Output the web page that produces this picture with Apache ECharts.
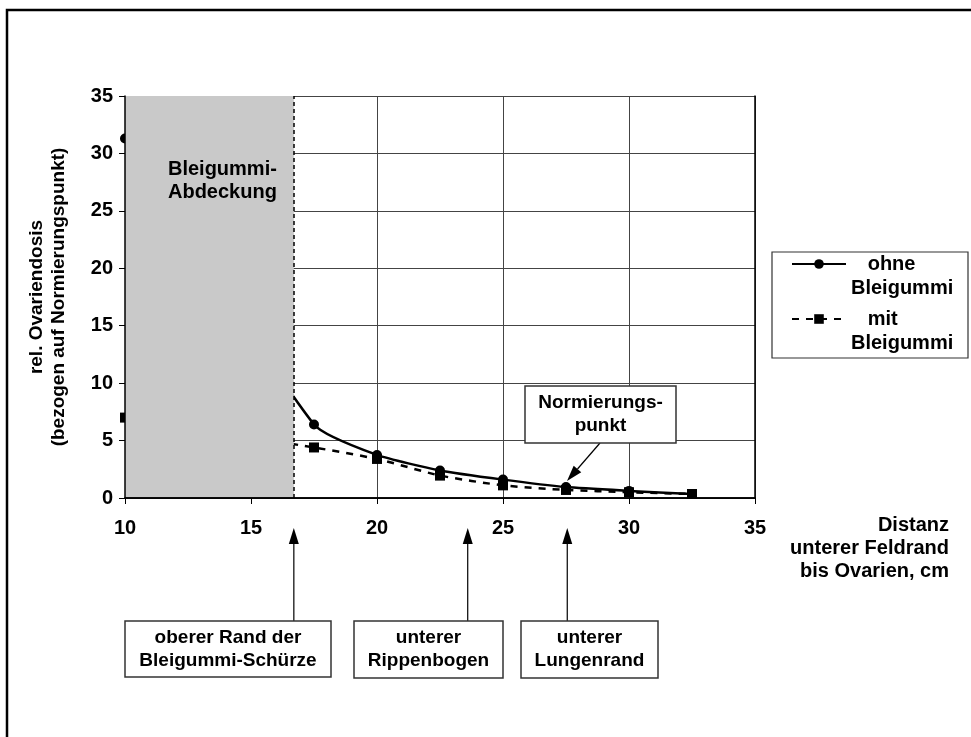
<!DOCTYPE html>
<html>
<head>
<meta charset="utf-8">
<script src="https://cdn.jsdelivr.net/npm/echarts@6/dist/echarts.min.js"></script>
<style>html,body{margin:0;padding:0;background:#fff}#c{width:971px;height:737px}</style>
</head>
<body>
<div id="c"></div>
<script>
// ---- data ----
const xValues = [10, 17.5, 20, 22.5, 25, 27.5, 30, 32.5];
const ohneBleigummi = [31.3, 6.4, 3.75, 2.4, 1.6, 0.95, 0.62, 0.35];
const mitBleigummi = [7.0, 4.4, 3.4, 1.95, 1.1, 0.7, 0.5, 0.35];
const seriesNames = ['ohne Bleigummi', 'mit Bleigummi'];
const xTicks = [10, 15, 20, 25, 30, 35];
const yTicks = [0, 5, 10, 15, 20, 25, 30, 35];
const shieldRange = [10, 16.7];
const annotationX = [16.7, 23.6, 27.55];
const annotationTexts = ['oberer Rand der\nBleigummi-Schürze', 'unterer\nRippenbogen', 'unterer\nLungenrand'];
const normPoint = [27.5, 0.95];

const FONT = '"Liberation Sans", Arial, Helvetica, sans-serif';
const chart = echarts.init(document.getElementById('c'));

const axisCommon = { type: 'value', min: 10, max: 35, interval: 5 };
const yCommon = { type: 'value', min: 0, max: 35, interval: 5 };

const option = {
  animation: false,
  backgroundColor: '#fff',
  grid: { left: 125, right: 216, top: 96, bottom: 239, containLabel: false },
  xAxis: [
    Object.assign({}, axisCommon, {
      position: 'bottom', z: 0,
      axisLine: { show: false }, axisTick: { show: false }, axisLabel: { show: false },
      splitLine: { show: true, lineStyle: { color: '#444', width: 1 } }
    }),
    Object.assign({}, axisCommon, {
      position: 'bottom', z: 6,
      axisLine: { show: true, lineStyle: { color: '#000', width: 1.5 } },
      axisTick: { show: true, length: 6, lineStyle: { color: '#000', width: 1 } },
      axisLabel: { show: true, margin: 20, color: '#000', fontFamily: FONT, fontWeight: 'bold', fontSize: 20,
        formatter: v => xTicks.includes(v) ? String(v) : '' },
      splitLine: { show: false }
    }),
    Object.assign({}, axisCommon, {
      position: 'top', z: 6,
      axisLine: { show: true, lineStyle: { color: '#000', width: 1.5 } },
      axisTick: { show: false }, axisLabel: { show: false }, splitLine: { show: false }
    })
  ],
  yAxis: [
    Object.assign({}, yCommon, {
      position: 'left', z: 0,
      axisLine: { show: false }, axisTick: { show: false }, axisLabel: { show: false },
      splitLine: { show: true, lineStyle: { color: '#444', width: 1 } }
    }),
    Object.assign({}, yCommon, {
      position: 'left', z: 6,
      name: 'rel. Ovariendosis\n(bezogen auf Normierungspunkt)',
      nameLocation: 'middle', nameRotate: 90, nameGap: 55,
      nameTextStyle: { color: '#000', fontFamily: FONT, fontWeight: 'bold', fontSize: 19, lineHeight: 22 },
      axisLine: { show: true, lineStyle: { color: '#000', width: 1.5 } },
      axisTick: { show: true, length: 6, lineStyle: { color: '#000', width: 1 } },
      axisLabel: { show: true, margin: 12, color: '#000', fontFamily: FONT, fontWeight: 'bold', fontSize: 20,
        formatter: v => yTicks.includes(v) ? String(v) : '' },
      splitLine: { show: false }
    }),
    Object.assign({}, yCommon, {
      position: 'right', z: 6,
      axisLine: { show: true, lineStyle: { color: '#000', width: 1.5 } },
      axisTick: { show: false }, axisLabel: { show: false }, splitLine: { show: false }
    })
  ],
  legend: {
    orient: 'vertical', left: 791, top: 228, padding: 0,
    itemWidth: 54, itemHeight: 12, itemGap: -17,
    data: seriesNames,
    formatter: name => { const p = name.split(' '); return '\n   ' + p[0] + '\n' + p[1]; },
    textStyle: { color: '#000', fontFamily: FONT, fontWeight: 'bold', fontSize: 20, lineHeight: 24 }
  },
  series: [
    {
      name: seriesNames[0], type: 'line', xAxisIndex: 0, yAxisIndex: 0, z: 2,
      data: xValues.map((x, i) => [x, ohneBleigummi[i]]),
      smooth: 0.2, symbol: 'circle', symbolSize: 10,
      lineStyle: { color: '#000', width: 2.5 }, itemStyle: { color: '#000' }
    },
    {
      name: seriesNames[1], type: 'line', xAxisIndex: 0, yAxisIndex: 0, z: 2,
      data: xValues.map((x, i) => [x, mitBleigummi[i]]),
      smooth: 0.2, symbol: 'rect', symbolSize: 10,
      lineStyle: { color: '#000', width: 2.5, type: [7, 7] }, itemStyle: { color: '#000' }
    },
    {
      type: 'line', xAxisIndex: 0, yAxisIndex: 0, data: [], silent: true,
      markArea: {
        silent: true, z: 3,
        itemStyle: { color: '#c9c9c9', borderWidth: 0 },
        label: { show: true, position: 'insideTop', distance: 62, offset: [13, 0],
          color: '#000', fontFamily: FONT, fontWeight: 'bold', fontSize: 20, lineHeight: 23, align: 'center' },
        data: [[{ xAxis: shieldRange[0], yAxis: 35, name: 'Bleigummi-\nAbdeckung' }, { xAxis: shieldRange[1], yAxis: 0 }]]
      },
      markLine: {
        silent: true, symbol: 'none', z: 5,
        label: { show: false },
        lineStyle: { color: '#000', width: 1.5, type: [4, 3] },
        data: [{ xAxis: shieldRange[1] }]
      }
    }
  ]
};
chart.setOption(option);

function arrow(x1, y1, x2, y2, headLen, headW) {
  const dx = x2 - x1, dy = y2 - y1, L = Math.sqrt(dx * dx + dy * dy);
  const ux = dx / L, uy = dy / L, px = -uy, py = ux;
  const bx = x2 - ux * headLen, by = y2 - uy * headLen;
  return [
    { type: 'line', shape: { x1: x1, y1: y1, x2: bx, y2: by }, style: { stroke: '#000', lineWidth: 1.2 }, z: 20 },
    { type: 'polygon', shape: { points: [[x2, y2], [bx + px * headW / 2, by + py * headW / 2], [bx - px * headW / 2, by - py * headW / 2]] },
      style: { fill: '#000' }, z: 20 }
  ];
}
function box(x, y, w, h, text, fs) {
  return [
    { type: 'rect', shape: { x: x, y: y, width: w, height: h }, style: { fill: '#fff', stroke: '#333', lineWidth: 1.5 }, z: 20 },
    { type: 'text', x: x + w / 2, y: y + h / 2, z: 21,
      style: { text: text, align: 'center', verticalAlign: 'middle', fill: '#000', font: 'bold ' + fs + 'px ' + FONT, lineHeight: 23 } }
  ];
}

const g = [];
// outer frame
g.push({ type: 'polyline', shape: { points: [[7, 737], [7, 10], [971, 10]] }, style: { stroke: '#000', lineWidth: 2.5, fill: null }, z: 1 });
// legend frame
g.push({ type: 'rect', shape: { x: 772, y: 252, width: 196, height: 106 }, style: { fill: 'none', stroke: '#333', lineWidth: 1.2 }, z: 1 });
// x axis title
g.push({ type: 'text', x: 949, y: 514, z: 20,
  style: { text: 'Distanz\nunterer Feldrand\nbis Ovarien, cm', align: 'right', verticalAlign: 'top', fill: '#000', font: 'bold 20px ' + FONT, lineHeight: 23 } });
// lower annotations
const boxes = [[125, 621, 206, 56], [354, 621, 149, 57], [521, 621, 137, 57]];
annotationX.forEach((xv, i) => {
  const px = chart.convertToPixel({ xAxisIndex: 0 }, xv);
  g.push(...arrow(px, boxes[i][1], px, 528, 16, 10));
  g.push(...box(boxes[i][0], boxes[i][1], boxes[i][2], boxes[i][3], annotationTexts[i], 19));
});
// Normierungspunkt
const np = chart.convertToPixel({ xAxisIndex: 0, yAxisIndex: 0 }, normPoint);
g.push(...arrow(600, 443, np[0] + 1, np[1] - 6, 16, 10));
g.push(...box(525, 386, 151, 57, 'Normierungs-\npunkt', 19));

chart.setOption({ graphic: { elements: g } });
</script>
</body>
</html>
